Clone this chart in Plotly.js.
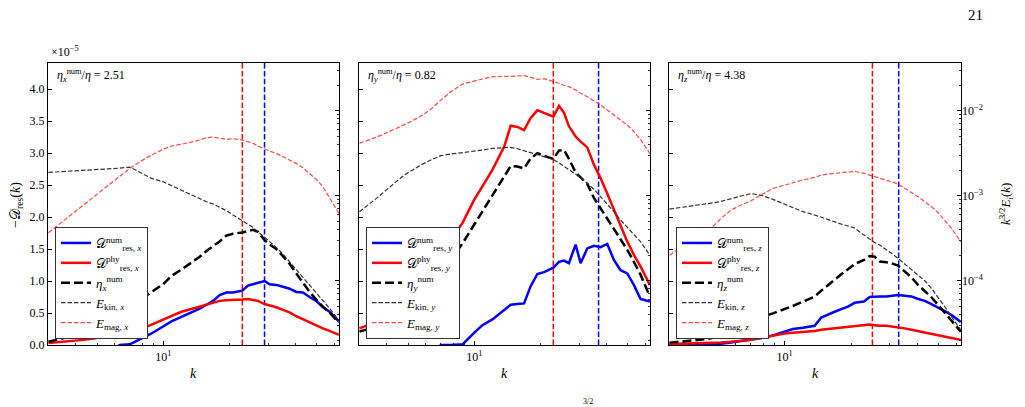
<!DOCTYPE html>
<html>
<head>
<meta charset="utf-8">
<script src="https://cdn.plot.ly/plotly-3.0.1.min.js"></script>
<style>html,body{margin:0;padding:0;background:#fff;}#chart{width:1025px;height:407px;}</style>
</head>
<body>
<div id="chart"></div>
<script>
// wavenumbers (shared by all panels)
const k = [3, 3.63, 4.32, 4.8, 5.14, 5.71, 6.34, 7.04, 7.82, 8.84, 9.98, 10.89, 12.09, 13.67, 14.65, 15.71, 16.85, 18.06, 19.37, 20.77, 22.9, 24.3, 25.61, 26.98, 28.93, 30.49, 32.69, 35.05, 37.58, 40.3, 43.21, 46.34, 49.69, 53.28, 57.13, 62.98];

// panel x  (left axis values in units of 1e-5)
const dnum_x = [-0.6, -0.5, -0.4, -0.3, -0.2, -0.1, 0.0, 0.01, 0.09, 0.18, 0.29, 0.37, 0.44, 0.52, 0.57, 0.63, 0.69, 0.78, 0.82, 0.82, 0.85, 0.93, 0.95, 0.97, 1.0, 0.95, 0.94, 0.91, 0.88, 0.83, 0.82, 0.75, 0.69, 0.59, 0.52, 0.37];
const dphy_x = [0.03, 0.05, 0.08, 0.10, 0.12, 0.14, 0.17, 0.20, 0.24, 0.32, 0.40, 0.45, 0.52, 0.57, 0.60, 0.63, 0.65, 0.69, 0.70, 0.70, 0.71, 0.72, 0.71, 0.69, 0.64, 0.62, 0.59, 0.55, 0.51, 0.45, 0.40, 0.35, 0.31, 0.26, 0.22, 0.16];
const eta_x = [0.05, 0.12, 0.20, 0.26, 0.30, 0.38, 0.47, 0.58, 0.70, 0.83, 0.95, 1.08, 1.18, 1.30, 1.38, 1.47, 1.54, 1.62, 1.71, 1.74, 1.76, 1.78, 1.80, 1.77, 1.64, 1.57, 1.50, 1.39, 1.27, 1.12, 0.98, 0.83, 0.71, 0.60, 0.51, 0.35];
const ekin_x = [1.88e-3, 1.93e-3, 1.99e-3, 2.02e-3, 2.04e-3, 2.08e-3, 2.11e-3, 2.17e-3, 1.87e-3, 1.60e-3, 1.46e-3, 1.31e-3, 1.15e-3, 9.91e-4, 9.14e-4, 8.49e-4, 7.98e-4, 7.29e-4, 6.67e-4, 5.93e-4, 5.04e-4, 4.60e-4, 4.24e-4, 3.77e-4, 3.24e-4, 2.88e-4, 2.47e-4, 2.06e-4, 1.67e-4, 1.36e-4, 1.11e-4, 9.06e-5, 7.29e-5, 5.93e-5, 4.73e-5, 3.44e-5];
const emag_x = [3.67e-4, 5.41e-4, 7.76e-4, 9.55e-4, 1.10e-3, 1.37e-3, 1.70e-3, 2.10e-3, 2.51e-3, 3.01e-3, 3.51e-3, 3.84e-3, 4.02e-3, 4.32e-3, 4.52e-3, 4.81e-3, 4.90e-3, 4.73e-3, 4.60e-3, 4.69e-3, 4.52e-3, 4.32e-3, 4.13e-3, 3.84e-3, 3.54e-3, 3.35e-3, 3.15e-3, 2.88e-3, 2.63e-3, 2.40e-3, 2.13e-3, 1.83e-3, 1.56e-3, 1.28e-3, 9.31e-4, 6.19e-4];

// panel y
const dnum_y = [-0.8, -0.7, -0.6, -0.5, -0.4, -0.3, -0.15, 0.0, 0.0, 0.01, 0.19, 0.31, 0.40, 0.54, 0.63, 0.64, 0.65, 0.92, 1.11, 1.14, 1.21, 1.30, 1.32, 1.28, 1.57, 1.28, 1.51, 1.55, 1.53, 1.58, 1.33, 1.17, 1.12, 0.94, 0.72, 0.68];
const dphy_y = [0.26, 0.37, 0.52, 0.65, 0.76, 0.94, 1.12, 1.33, 1.64, 1.91, 2.27, 2.48, 2.74, 3.10, 3.43, 3.41, 3.36, 3.55, 3.67, 3.63, 3.57, 3.74, 3.63, 3.42, 3.26, 3.18, 3.09, 2.82, 2.61, 2.37, 2.11, 1.88, 1.62, 1.41, 1.23, 0.94];
const eta_y = [0.21, 0.29, 0.39, 0.50, 0.60, 0.76, 0.94, 1.12, 1.33, 1.59, 1.88, 2.09, 2.32, 2.63, 2.80, 2.79, 2.76, 2.92, 3.00, 2.96, 2.91, 3.04, 3.05, 2.91, 2.70, 2.62, 2.52, 2.30, 2.14, 1.96, 1.80, 1.65, 1.49, 1.30, 1.10, 0.76];
const ekin_y = [6.49e-4, 9.55e-4, 1.40e-3, 1.75e-3, 1.95e-3, 2.30e-3, 2.63e-3, 2.96e-3, 3.09e-3, 3.21e-3, 3.33e-3, 3.44e-3, 3.61e-3, 3.71e-3, 3.71e-3, 3.57e-3, 3.38e-3, 3.21e-3, 3.03e-3, 2.88e-3, 2.67e-3, 2.44e-3, 2.23e-3, 2.04e-3, 1.80e-3, 1.63e-3, 1.40e-3, 1.19e-3, 9.73e-4, 7.98e-4, 6.49e-4, 5.18e-4, 4.24e-4, 3.51e-4, 2.88e-4, 2.00e-4];
const emag_y = [4.13e-3, 4.94e-3, 6.03e-3, 6.78e-3, 7.43e-3, 8.65e-3, 1.04e-2, 1.33e-2, 1.67e-2, 2.06e-2, 2.25e-2, 2.36e-2, 2.51e-2, 2.56e-2, 2.54e-2, 2.56e-2, 2.58e-2, 2.47e-2, 2.34e-2, 2.38e-2, 2.23e-2, 2.10e-2, 1.99e-2, 1.92e-2, 1.75e-2, 1.60e-2, 1.46e-2, 1.31e-2, 1.17e-2, 1.02e-2, 8.89e-3, 7.76e-3, 6.78e-3, 5.66e-3, 4.60e-3, 3.15e-3];

// panel z
const dnum_z = [0.0, 0.005, 0.01, 0.015, 0.02, 0.04, 0.06, 0.08, 0.11, 0.15, 0.21, 0.25, 0.27, 0.30, 0.43, 0.48, 0.52, 0.56, 0.60, 0.66, 0.68, 0.75, 0.76, 0.76, 0.76, 0.77, 0.78, 0.77, 0.76, 0.72, 0.69, 0.64, 0.59, 0.53, 0.47, 0.36];
const dphy_z = [0.015, 0.02, 0.03, 0.035, 0.04, 0.05, 0.065, 0.08, 0.11, 0.15, 0.18, 0.19, 0.20, 0.22, 0.24, 0.25, 0.27, 0.28, 0.29, 0.30, 0.31, 0.32, 0.31, 0.30, 0.30, 0.29, 0.28, 0.26, 0.24, 0.22, 0.20, 0.18, 0.16, 0.13, 0.11, 0.08];
const eta_z = [0.037, 0.063, 0.089, 0.115, 0.141, 0.193, 0.261, 0.349, 0.433, 0.495, 0.558, 0.610, 0.678, 0.756, 0.850, 0.939, 1.027, 1.106, 1.184, 1.267, 1.330, 1.392, 1.382, 1.304, 1.293, 1.278, 1.241, 1.147, 1.059, 0.939, 0.850, 0.746, 0.626, 0.506, 0.375, 0.209];
const ekin_z = [6.97e-4, 7.43e-4, 7.91e-4, 8.28e-4, 8.57e-4, 9.31e-4, 9.91e-4, 1.06e-3, 1.01e-3, 9.06e-4, 7.98e-4, 7.29e-4, 6.49e-4, 5.93e-4, 5.56e-4, 5.27e-4, 4.94e-4, 4.64e-4, 4.40e-4, 4.17e-4, 3.44e-4, 3.06e-4, 2.82e-4, 2.63e-4, 2.34e-4, 2.10e-4, 1.83e-4, 1.57e-4, 1.36e-4, 1.17e-4, 1.00e-4, 8.13e-5, 6.37e-5, 4.94e-5, 3.77e-5, 2.63e-5];
const emag_z = [2.00e-4, 2.80e-4, 3.77e-4, 4.52e-4, 5.41e-4, 6.78e-4, 7.76e-4, 8.73e-4, 1.02e-3, 1.22e-3, 1.33e-3, 1.42e-3, 1.53e-3, 1.64e-3, 1.75e-3, 1.80e-3, 1.83e-3, 1.87e-3, 1.90e-3, 1.93e-3, 1.83e-3, 1.75e-3, 1.70e-3, 1.63e-3, 1.53e-3, 1.46e-3, 1.37e-3, 1.22e-3, 1.11e-3, 9.73e-4, 8.49e-4, 7.43e-4, 6.31e-4, 5.18e-4, 4.13e-4, 2.88e-4];

const components = ['x', 'y', 'z'];
const etaRatio = ['2.51', '0.82', '4.38'];
const kPhys = [22.9, 22.9, 25.0];   // red vertical dashed lines
const kNum = [28.9, 36.8, 32.9];    // blue vertical dashed lines
const leftTicks = [0, 0.5, 1.0, 1.5, 2.0, 2.5, 3.0, 3.5, 4.0];
const rightTicks = [1e-4, 1e-3, 1e-2];
const rightTickText = ['10<sup>−4</sup>', '10<sup>−3</sup>', '10<sup>−2</sup>'];

const panels = [
  {dnum: dnum_x, dphy: dphy_x, eta: eta_x, ekin: ekin_x, emag: emag_x},
  {dnum: dnum_y, dphy: dphy_y, eta: eta_y, ekin: ekin_y, emag: emag_y},
  {dnum: dnum_z, dphy: dphy_z, eta: eta_z, ekin: ekin_z, emag: emag_z}
];

const FONT = 'Liberation Serif, DejaVu Serif, serif';
const W = 1025, H = 407;
const pxL = [48, 359, 669], pxR = [339, 650, 961];
const yTop = 63, yBot = 345;
const yDom = [(H - yBot) / H, (H - yTop) / H];
const LMAX = 4.41;
const RRANGE = [-4.756, -1.439];

const minorX = [3, 4, 5, 6, 7, 8, 9, 20, 30, 40, 50, 60];
const minorR = [];
[1e-5, 1e-4, 1e-3, 1e-2].forEach(d => { for (let m = 2; m <= 9; m++) minorR.push(m * d); });

const traces = [];
const layout = {
  width: W, height: H,
  margin: {l: 0, r: 0, t: 0, b: 0},
  paper_bgcolor: '#fff', plot_bgcolor: 'rgba(0,0,0,0)',
  font: {family: FONT, size: 12, color: '#000'},
  showlegend: true,
  annotations: [], shapes: []
};

panels.forEach((p, i) => {
  const c = components[i];
  const xa = i === 0 ? 'x' : 'x' + (i + 1);
  const yl = 'y' + (2 * i + 1 === 1 ? '' : (2 * i + 1));
  const yr = 'y' + (2 * i + 2);
  const lg = i === 0 ? 'legend' : 'legend' + (i + 1);

  // vertical reference lines
  traces.push({x: [kPhys[i], kPhys[i]], y: [0, LMAX], xaxis: xa, yaxis: yl, mode: 'lines',
    line: {color: '#ff0000', width: 1.5, dash: '5.5px,2.4px'}, showlegend: false, hoverinfo: 'skip'});
  traces.push({x: [kNum[i], kNum[i]], y: [0, LMAX], xaxis: xa, yaxis: yl, mode: 'lines',
    line: {color: '#0000ff', width: 1.5, dash: '5.5px,2.4px'}, showlegend: false, hoverinfo: 'skip'});

  traces.push({x: k, y: p.dnum, xaxis: xa, yaxis: yl, mode: 'lines', legend: lg,
    name: '𝒟<sup>num</sup><sub>res, <i>' + c + '</i></sub>', line: {color: '#0000ff', width: 2.5}});
  traces.push({x: k, y: p.dphy, xaxis: xa, yaxis: yl, mode: 'lines', legend: lg,
    name: '𝒟<sup>phy</sup><sub>res, <i>' + c + '</i></sub>', line: {color: '#ff0000', width: 2.5}});
  traces.push({x: k, y: p.eta, xaxis: xa, yaxis: yl, mode: 'lines', legend: lg,
    name: '<i>η</i><sub><i>' + c + '</i></sub><sup>num</sup>', line: {color: '#000000', width: 2.5, dash: '9px,4px'}});
  traces.push({x: k, y: p.ekin, xaxis: xa, yaxis: yr, mode: 'lines', legend: lg,
    name: '<i>E</i><sub>kin, <i>' + c + '</i></sub>', line: {color: '#333333', width: 1.2, dash: '4.5px,2px'}});
  traces.push({x: k, y: p.emag, xaxis: xa, yaxis: yr, mode: 'lines', legend: lg,
    name: '<i>E</i><sub>mag, <i>' + c + '</i></sub>', line: {color: 'rgba(255,40,40,0.85)', width: 1.2, dash: '4.5px,2px'}});

  const xKey = i === 0 ? 'xaxis' : 'xaxis' + (i + 1);
  const ylKey = 'yaxis' + (2 * i + 1 === 1 ? '' : (2 * i + 1));
  const yrKey = 'yaxis' + (2 * i + 2);
  layout[xKey] = {
    domain: [pxL[i] / W, pxR[i] / W], anchor: yl, type: 'log', range: [0.475, 1.8],
    tickmode: 'array', tickvals: [10], ticktext: ['10<sup>1</sup>'],
    ticks: 'inside', ticklen: 4, tickwidth: 1, tickcolor: '#000',
    minor: {tickmode: 'array', tickvals: minorX, ticks: 'inside', ticklen: 2, tickwidth: 0.8, tickcolor: '#000', showgrid: false},
    showline: true, mirror: true, linecolor: '#000', linewidth: 1.2,
    showgrid: false, zeroline: false, tickfont: {family: FONT, size: 12}
  };
  layout[ylKey] = {
    domain: yDom, anchor: xa, range: [0, LMAX],
    tickmode: 'array', tickvals: leftTicks, ticktext: leftTicks.map(v => v.toFixed(1)),
    showticklabels: i === 0, ticks: 'inside', ticklen: 4, tickwidth: 1, tickcolor: '#000',
    showline: true, mirror: true, linecolor: '#000', linewidth: 1.2,
    showgrid: false, zeroline: false, tickfont: {family: FONT, size: 12}
  };
  layout[yrKey] = {
    overlaying: yl, anchor: xa, side: 'right', type: 'log', range: RRANGE,
    tickmode: 'array', tickvals: rightTicks, ticktext: rightTickText,
    showticklabels: i === 2, ticks: 'inside', ticklen: 4, tickwidth: 1, tickcolor: '#000',
    minor: {tickmode: 'array', tickvals: minorR, ticks: 'inside', ticklen: 2, tickwidth: 0.8, tickcolor: '#000', showgrid: false},
    showline: false, showgrid: false, zeroline: false, tickfont: {family: FONT, size: 12}
  };

  layout[lg] = {
    x: (pxL[i] + 7) / W, y: (H - 227) / H, xanchor: 'left', yanchor: 'top',
    bgcolor: '#fff', bordercolor: '#333', borderwidth: 1,
    font: {family: FONT, size: 13}, tracegroupgap: 0, itemwidth: 30
  };

  layout.annotations.push({
    xref: 'paper', yref: 'paper', x: (pxL[i] + 7) / W, y: (H - 75) / H, xanchor: 'left', yanchor: 'middle',
    text: '<i>η</i><sub><i>' + c + '</i></sub><sup>num</sup>/<i>η</i> = ' + etaRatio[i],
    showarrow: false, font: {family: FONT, size: 12}
  });
  layout.annotations.push({
    xref: 'paper', yref: 'paper', x: (pxL[i] + pxR[i]) / 2 / W, y: (H - 373) / H, xanchor: 'center', yanchor: 'middle',
    text: '<i>k</i>', showarrow: false, font: {family: FONT, size: 14}
  });
});

layout.annotations.push({xref: 'paper', yref: 'paper', x: 49 / W, y: (H - 52) / H, xanchor: 'left', yanchor: 'middle',
  text: '×10<sup>−5</sup>', showarrow: false, font: {family: FONT, size: 12}});
layout.annotations.push({xref: 'paper', yref: 'paper', x: 16 / W, y: (H - 205) / H, xanchor: 'center', yanchor: 'middle',
  text: '−𝒟<sub>res</sub>(<i>k</i>)', textangle: -90, showarrow: false, font: {family: FONT, size: 14}});
layout.annotations.push({xref: 'paper', yref: 'paper', x: 1006 / W, y: (H - 204) / H, xanchor: 'center', yanchor: 'middle',
  text: '<i>k</i><sup>3/2</sup><i>E</i><sub><i>i</i></sub>(<i>k</i>)', textangle: -90, showarrow: false, font: {family: FONT, size: 13}});
layout.annotations.push({xref: 'paper', yref: 'paper', x: 975 / W, y: (H - 15) / H, xanchor: 'center', yanchor: 'middle',
  text: '21', showarrow: false, font: {family: FONT, size: 15}});
layout.annotations.push({xref: 'paper', yref: 'paper', x: 588 / W, y: (H - 401) / H, xanchor: 'center', yanchor: 'middle',
  text: '3/2', showarrow: false, font: {family: FONT, size: 8}});

Plotly.newPlot('chart', traces, layout, {staticPlot: true, displayModeBar: false});
</script>
</body>
</html>
